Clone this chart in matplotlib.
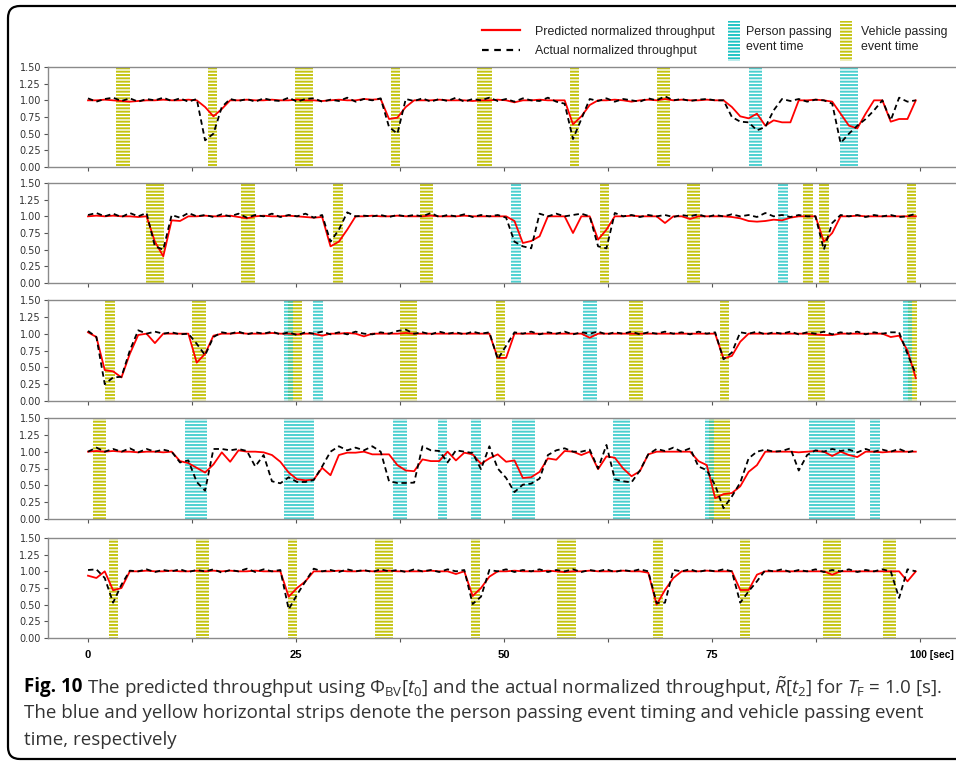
import numpy as np
import matplotlib.pyplot as plt
from matplotlib.patches import FancyBboxPatch, Rectangle
from matplotlib.lines import Line2D

plt.rcParams['font.family'] = ['DejaVu Sans']
plt.rcParams['hatch.linewidth'] = 1.4
plt.rcParams['mathtext.fontset'] = 'custom'
plt.rcParams['mathtext.rm'] = 'Open Sans'
plt.rcParams['mathtext.it'] = 'Open Sans:italic'

# one sample per second, 0 .. 99.5 s
time_sec = np.linspace(0, 99.5, 100)

# ---- panel 1 ----
pred_1 = [1.0, 1.0, 1.01, 1.0, 0.99, 0.98, 0.99, 1.0, 1.0, 1.01,
          1.0, 1.0, 1.01, 1.0, 0.9, 0.76, 0.87, 1.0, 1.0, 1.01,
          1.0, 1.0, 1.01, 1.0, 1.0, 1.01, 1.0, 1.0, 0.99, 1.0,
          1.01, 1.0, 1.0, 1.02, 1.01, 1.02, 0.72, 0.74, 0.9, 1.0,
          1.0, 1.0, 1.01, 1.0, 1.0, 1.0, 0.99, 1.0, 1.0, 1.01,
          1.0, 0.97, 1.0, 1.0, 1.01, 1.0, 1.0, 1.0, 0.64, 0.76,
          0.93, 1.0, 1.0, 1.01, 1.0, 0.98, 1.0, 1.01, 1.0, 1.02,
          1.0, 1.01, 1.0, 1.0, 1.01, 1.0, 1.0, 0.9, 0.76, 0.73,
          0.8, 0.62, 0.7, 0.67, 0.67, 1.0, 1.0, 1.01, 1.0, 0.98,
          0.8, 0.62, 0.58, 0.8, 1.0, 1.0, 0.68, 0.72, 0.72, 1.0]
actual_1 = [1.03, 0.98, 1.02, 1.04, 0.99, 1.03, 0.98, 1.02, 1.0, 1.04,
            0.99, 1.03, 0.98, 1.02, 0.4, 0.5, 0.9, 1.02, 0.99, 1.02,
            0.98, 1.03, 1.0, 0.99, 1.04, 0.98, 1.02, 1.03, 0.98, 1.01,
            0.99, 1.04, 0.98, 1.02, 1.0, 1.03, 0.6, 0.5, 1.02, 0.99,
            1.03, 0.98, 1.02, 0.99, 1.04, 0.98, 1.02, 1.0, 1.04, 0.99,
            1.02, 0.98, 1.03, 1.0, 0.99, 1.04, 0.98, 0.95, 0.42, 0.72,
            1.02, 0.99, 1.03, 0.98, 1.02, 1.0, 0.98, 1.03, 1.0, 1.06,
            1.0, 1.02, 0.99, 1.01, 1.02, 1.0, 1.0, 0.75, 0.68, 0.67,
            0.55, 0.6, 0.85, 1.02, 0.99, 1.02, 0.98, 1.01, 1.0, 0.95,
            0.36, 0.5, 0.62, 0.72, 0.85, 1.0, 0.7, 1.04, 0.98, 1.0]
person_1 = [(79.4, 81.0), (90.4, 92.5)]
vehicle_1 = [(3.4, 5.0), (14.4, 15.5), (24.9, 27.0), (36.4, 37.5),
             (46.8, 48.5), (57.9, 59.0), (68.4, 70.0)]

# ---- panel 2 ----
pred_2 = [1.0, 1.01, 1.0, 1.01, 1.0, 1.0, 0.99, 1.0, 0.62, 0.4,
          0.94, 0.93, 1.0, 1.0, 1.01, 1.0, 1.0, 1.01, 0.99, 0.97,
          1.0, 1.01, 1.0, 1.0, 1.01, 1.0, 0.99, 0.98, 0.99, 0.55,
          0.62, 0.8, 1.0, 1.0, 1.01, 1.0, 1.0, 1.01, 1.0, 1.0,
          1.0, 1.01, 1.0, 1.0, 1.0, 1.01, 1.0, 1.0, 1.0, 1.0,
          1.0, 0.93, 0.6, 0.63, 0.7, 1.0, 1.0, 1.0, 0.75, 1.0,
          1.0, 0.65, 0.8, 1.0, 1.0, 1.01, 1.0, 1.0, 1.0, 0.9,
          1.0, 1.0, 0.96, 1.0, 1.0, 1.0, 1.0, 0.99, 0.97, 0.93,
          0.92, 0.93, 0.95, 0.94, 0.98, 1.0, 1.0, 1.0, 0.62, 0.75,
          1.0, 1.0, 1.01, 1.0, 1.0, 1.0, 1.0, 1.0, 1.0, 1.0]
actual_2 = [1.02, 1.05, 1.0, 1.04, 0.99, 1.05, 1.0, 1.05, 0.55, 0.5,
            1.02, 0.98, 1.05, 1.0, 1.02, 0.99, 1.03, 1.0, 1.04, 0.98,
            1.02, 1.0, 1.04, 0.99, 1.02, 1.0, 1.04, 0.98, 1.02, 0.62,
            0.8, 1.06, 1.0, 1.01, 1.0, 1.02, 0.99, 1.02, 1.0, 1.02,
            1.0, 1.05, 0.99, 1.02, 1.0, 1.03, 0.99, 1.02, 1.0, 1.02,
            0.98, 0.62, 0.55, 0.52, 1.04, 1.0, 1.04, 1.0, 1.02, 1.04,
            1.0, 0.55, 0.52, 1.05, 1.0, 1.02, 0.99, 1.02, 1.0, 1.02,
            0.99, 1.02, 1.0, 1.03, 0.99, 1.02, 1.0, 1.03, 1.0, 1.02,
            0.99, 1.05, 1.0, 1.02, 0.99, 1.02, 1.0, 1.0, 0.5, 0.9,
            1.02, 1.0, 1.02, 0.99, 1.02, 1.0, 1.02, 0.99, 1.0, 1.04]
person_2 = [(50.9, 52.1), (82.9, 84.1)]
vehicle_2 = [(7.0, 9.1), (18.4, 20.1), (29.4, 30.6), (39.9, 41.5),
             (61.5, 62.6), (72.0, 73.6), (85.9, 87.1), (87.9, 89.1),
             (98.4, 99.5)]

# ---- panel 3 ----
pred_3 = [1.02, 0.95, 0.46, 0.44, 0.35, 0.7, 0.98, 1.0, 0.86, 1.0,
          1.0, 1.0, 1.0, 0.57, 0.7, 0.97, 1.0, 1.0, 1.01, 1.0,
          1.0, 1.0, 1.01, 1.0, 1.0, 0.99, 1.0, 1.0, 0.97, 1.0,
          1.0, 1.01, 1.0, 0.96, 1.0, 1.0, 1.0, 1.0, 1.01, 1.0,
          1.0, 1.0, 1.0, 1.0, 1.0, 1.0, 1.0, 1.0, 1.0, 0.64,
          0.64, 1.0, 1.0, 1.0, 1.0, 1.0, 1.0, 1.0, 1.0, 1.0,
          0.94, 1.0, 1.0, 1.0, 1.0, 1.0, 1.0, 1.0, 1.0, 1.0,
          1.0, 1.0, 1.0, 1.0, 1.0, 1.0, 0.63, 0.67, 0.88, 1.0,
          1.0, 1.0, 1.0, 1.0, 1.0, 1.0, 1.0, 0.99, 0.98, 0.98,
          1.0, 1.0, 1.0, 1.0, 1.0, 1.0, 0.95, 0.97, 0.75, 0.34]
actual_3 = [1.04, 0.95, 0.25, 0.35, 0.36, 0.75, 1.05, 1.0, 1.03, 1.0,
            1.02, 0.99, 1.0, 0.85, 0.68, 0.95, 1.02, 1.0, 1.03, 0.99,
            1.02, 1.0, 1.03, 0.99, 1.02, 0.98, 1.02, 1.0, 1.03, 0.99,
            1.02, 0.99, 1.03, 1.0, 0.99, 1.02, 1.0, 1.04, 1.06, 1.0,
            1.02, 0.99, 1.03, 1.0, 1.02, 0.99, 1.03, 1.0, 1.02, 0.62,
            0.82, 1.02, 1.0, 1.03, 0.99, 1.02, 1.0, 1.03, 0.99, 1.02,
            1.0, 1.03, 0.99, 1.02, 1.0, 1.03, 0.99, 1.02, 1.0, 1.03,
            1.0, 1.02, 0.99, 1.03, 1.0, 1.02, 0.62, 0.72, 1.02, 1.0,
            1.03, 0.99, 1.02, 1.0, 1.03, 0.99, 1.02, 1.0, 1.03, 0.99,
            1.02, 1.0, 1.03, 0.99, 1.02, 1.0, 1.02, 1.02, 0.7, 0.4]
person_3 = [(23.5, 24.6), (27.0, 28.2), (59.5, 61.2), (98.0, 99.1)]
vehicle_3 = [(2.0, 3.2), (12.5, 14.2), (24.0, 25.7), (37.5, 39.6),
             (49.0, 50.1), (65.0, 66.7), (76.0, 77.1), (86.5, 88.6),
             (98.5, 99.6)]

# ---- panel 4 ----
pred_4 = [1.0, 1.01, 1.0, 1.01, 1.0, 1.0, 0.99, 1.0, 1.0, 0.99,
          1.0, 0.86, 0.83, 0.76, 0.69, 0.81, 0.99, 0.85, 1.02, 1.0,
          1.0, 0.99, 0.95, 0.85, 0.69, 0.59, 0.575, 0.585, 0.76, 0.65,
          0.95, 0.985, 0.985, 1.0, 0.96, 0.96, 0.96, 0.8, 0.72, 0.71,
          0.885, 0.86, 0.86, 1.0, 0.87, 0.985, 0.96, 0.82, 0.9, 0.96,
          0.85, 0.87, 0.61, 0.62, 0.7, 0.9, 0.88, 1.01, 1.0, 0.95,
          1.0, 0.74, 0.93, 0.91, 0.75, 0.635, 0.71, 0.96, 1.0, 1.0,
          1.0, 1.0, 1.0, 0.86, 0.8, 0.31, 0.37, 0.385, 0.485, 0.7,
          0.8, 1.0, 1.0, 1.0, 1.0, 0.99, 1.0, 1.01, 1.0, 0.935,
          1.0, 0.95, 0.92, 1.0, 1.0, 0.99, 1.0, 1.0, 1.0, 1.0]
actual_4 = [1.0, 1.06, 1.0, 1.04, 1.0, 1.05, 0.99, 1.04, 1.0, 1.03,
            1.0, 0.84, 0.87, 0.55, 0.42, 1.04, 1.04, 1.02, 1.04, 1.01,
            0.78, 0.95, 0.56, 0.53, 0.62, 0.55, 0.55, 0.58, 0.78, 1.0,
            1.08, 1.02, 1.06, 1.02, 1.08, 1.0, 0.56, 0.535, 0.535, 0.54,
            1.08, 1.02, 1.01, 0.84, 1.02, 1.0, 0.98, 0.74, 1.08, 0.75,
            0.61, 0.4, 0.51, 0.525, 0.6, 0.95, 1.02, 1.05, 1.0, 1.0,
            1.03, 0.75, 1.1, 0.59, 0.56, 0.545, 0.72, 0.96, 1.04, 1.01,
            1.06, 1.0, 1.05, 0.78, 0.725, 0.5, 0.16, 0.335, 0.54, 0.9,
            1.0, 1.03, 1.0, 1.01, 1.05, 0.72, 0.95, 1.02, 1.0, 1.04,
            1.01, 1.03, 0.99, 1.04, 1.0, 1.03, 1.0, 1.04, 0.99, 1.02]
person_4 = [(11.6, 14.3), (23.6, 27.2), (36.6, 38.3), (42.1, 43.2),
            (46.0, 47.2), (51.0, 53.7), (63.1, 65.2), (74.1, 75.2),
            (86.6, 92.2), (94.0, 95.2)]
vehicle_4 = [(0.6, 2.2), (74.7, 77.2)]

# ---- panel 5 ----
pred_5 = [0.935, 0.9, 1.0, 0.715, 0.75, 1.0, 1.0, 1.01, 1.0, 1.0,
          1.01, 1.0, 1.0, 1.01, 1.0, 1.01, 1.0, 1.01, 1.0, 1.0,
          1.01, 1.0, 1.0, 1.0, 0.62, 0.75, 0.85, 1.0, 1.0, 1.0,
          1.01, 1.0, 1.0, 1.01, 1.0, 1.0, 1.01, 1.0, 1.0, 1.0,
          1.0, 1.01, 1.0, 1.0, 0.96, 1.0, 0.63, 0.75, 0.92, 1.0,
          1.0, 1.01, 1.0, 1.0, 1.0, 1.01, 1.0, 0.99, 1.0, 1.0,
          1.01, 1.0, 1.0, 1.0, 1.01, 1.0, 1.0, 0.98, 0.5, 0.72,
          0.9, 1.0, 1.0, 1.0, 1.01, 1.0, 1.0, 1.0, 0.72, 0.72,
          0.95, 1.0, 1.0, 1.0, 1.0, 1.0, 1.0, 1.0, 1.0, 0.95,
          1.0, 1.0, 1.0, 1.0, 1.0, 1.0, 1.0, 1.0, 0.85, 1.0]
actual_5 = [1.02, 1.03, 0.9, 0.53, 0.8, 1.01, 1.0, 1.03, 0.99, 1.02,
            1.0, 1.03, 0.99, 1.02, 1.0, 1.03, 0.98, 1.02, 1.0, 1.04,
            0.99, 1.03, 1.0, 1.02, 0.43, 0.65, 0.85, 1.04, 1.0, 1.02,
            0.99, 1.03, 1.0, 1.02, 0.99, 1.03, 1.0, 1.02, 0.99, 1.03,
            1.0, 1.02, 0.99, 1.03, 1.0, 1.02, 0.51, 0.62, 1.02, 1.0,
            1.03, 0.99, 1.02, 1.0, 1.03, 0.99, 1.02, 1.0, 1.03, 0.99,
            1.02, 1.0, 1.03, 0.99, 1.02, 1.0, 1.03, 1.0, 0.525, 0.53,
            1.02, 1.0, 1.03, 0.99, 1.02, 1.0, 1.03, 1.0, 0.53, 0.7,
            0.85, 1.02, 1.0, 1.03, 0.99, 1.02, 1.0, 1.03, 0.99, 1.02,
            1.0, 1.03, 0.99, 1.02, 1.0, 1.03, 1.0, 0.6, 1.03, 1.0]
person_5 = []
vehicle_5 = [(2.5, 3.6), (13.0, 14.6), (24.0, 25.1), (34.5, 36.6),
             (46.0, 47.1), (56.4, 58.6), (67.9, 69.1), (78.4, 79.6),
             (88.4, 90.5), (95.5, 97.1)]

y_ticks = [0.0, 0.25, 0.5, 0.75, 1.0, 1.25, 1.5]
x_ticks = [0, 12.5, 25, 37.5, 50, 62.5, 75, 87.5, 100]
x_labels = ['0', '', '25', '', '50', '', '75', '', '']
x_last_label = '100 [sec]'

YELLOW = '#c4c412'
CYAN = '#1fc4c4'
HATCH = '-----'

panels = [(pred_1, actual_1, person_1, vehicle_1),
          (pred_2, actual_2, person_2, vehicle_2),
          (pred_3, actual_3, person_3, vehicle_3),
          (pred_4, actual_4, person_4, vehicle_4),
          (pred_5, actual_5, person_5, vehicle_5)]

W, H = 956, 763
fig = plt.figure(figsize=(W / 100, H / 100), dpi=100)

tops = [67, 183, 300, 418, 538]
bottoms = [167, 283, 401, 519, 638]
x_left, x_right = 48, 962

for i, (pred, actual, person, vehicle) in enumerate(panels):
    ax = fig.add_axes([x_left / W, 1 - bottoms[i] / H,
                       (x_right - x_left) / W, (bottoms[i] - tops[i]) / H])
    for s, e in vehicle:
        ax.axvspan(s, e, facecolor='none', edgecolor=YELLOW, hatch=HATCH, lw=0)
    for s, e in person:
        ax.axvspan(s, e, facecolor='none', edgecolor=CYAN, hatch=HATCH, lw=0, alpha=0.8)
    ax.plot(time_sec, pred, color='red', lw=1.3)
    ax.plot(time_sec, actual, color='black', lw=1.3, ls='--', dashes=(3, 2))

    ax.set_xlim(-4.81, 105.05)
    ax.set_ylim(0, 1.5)
    ax.set_yticks(y_ticks)
    ax.set_yticklabels(['%.2f' % v for v in y_ticks], fontsize=7, color='#333333')
    ax.set_xticks(x_ticks)
    if i == len(panels) - 1:
        ax.set_xticklabels(x_labels, fontsize=8, fontweight='bold',
                           family='Liberation Sans')
        ax.annotate(x_last_label, xy=(x_ticks[-1], 0), xycoords=('data', 'axes fraction'),
                    xytext=(-7, -8.3), textcoords='offset points', ha='left', va='top',
                    fontsize=7.4, fontweight='bold', family='Liberation Sans')
    else:
        ax.set_xticklabels([])
    ax.tick_params(axis='both', length=3, width=0.8, color='#555555', pad=2)
    ax.tick_params(axis='x', pad=6)
    for sp in ax.spines.values():
        sp.set_color('#8a8a8a')
        sp.set_linewidth(1.0)

# legend
fig.add_artist(Line2D([482 / W, 520 / W], [1 - 30 / H] * 2, color='red', lw=1.6))
fig.add_artist(Line2D([482 / W, 520 / W], [1 - 50 / H] * 2, color='black', lw=1.6,
                      ls='--', dashes=(3, 2.5)))
leg_kw = dict(va='center', fontsize=8.9, family='Liberation Sans', color='#222222')
fig.text(535 / W, 1 - 32 / H, 'Predicted normalized throughput', **leg_kw)
fig.text(535 / W, 1 - 51 / H, 'Actual normalized throughput', **leg_kw)
fig.add_artist(Rectangle((728 / W, 1 - 61 / H), 12 / W, 40 / H, transform=fig.transFigure,
                         facecolor='none', edgecolor=CYAN, hatch=HATCH, lw=0))
fig.add_artist(Rectangle((840 / W, 1 - 61 / H), 12 / W, 40 / H, transform=fig.transFigure,
                         facecolor='none', edgecolor=YELLOW, hatch=HATCH, lw=0))
fig.text(746 / W, 1 - 32 / H, 'Person passing', **leg_kw)
fig.text(746 / W, 1 - 47 / H, 'event time', **leg_kw)
fig.text(861 / W, 1 - 32 / H, 'Vehicle passing', **leg_kw)
fig.text(861 / W, 1 - 47 / H, 'event time', **leg_kw)

# caption
cap_size = 13.5
renderer = fig.canvas.get_renderer()
t_bold = fig.text(24 / W, 1 - 687 / H, 'Fig. 10', va='center', fontsize=cap_size,
                  fontweight='bold', family='Open Sans', color='black')
bb = t_bold.get_window_extent(renderer)
fig.text((bb.x1 + 5) / W, 1 - 687 / H,
         r'The predicted throughput using $\Phi_{\mathrm{BV}}[t_0]$ and the actual '
         r'normalized throughput, $\tilde{R}[t_2]$ for $T_{\mathrm{F}}$ = 1.0 [s].',
         va='center', fontsize=cap_size, family='Open Sans', color='#333333')
fig.text(24 / W, 1 - 713 / H,
         'The blue and yellow horizontal strips denote the person passing event timing '
         'and vehicle passing event',
         va='center', fontsize=cap_size, family='Open Sans', color='#333333')
fig.text(24 / W, 1 - 740 / H, 'time, respectively', va='center', fontsize=cap_size,
         family='Open Sans', color='#333333')

# rounded frame around the whole figure
frame = FancyBboxPatch((0.08, 0.04), 9.9, 7.53, transform=fig.dpi_scale_trans,
                       boxstyle='round,pad=0,rounding_size=0.12',
                       facecolor='none', edgecolor='black', lw=1.6)
fig.add_artist(frame)

fig.savefig('out.png', dpi=100)
